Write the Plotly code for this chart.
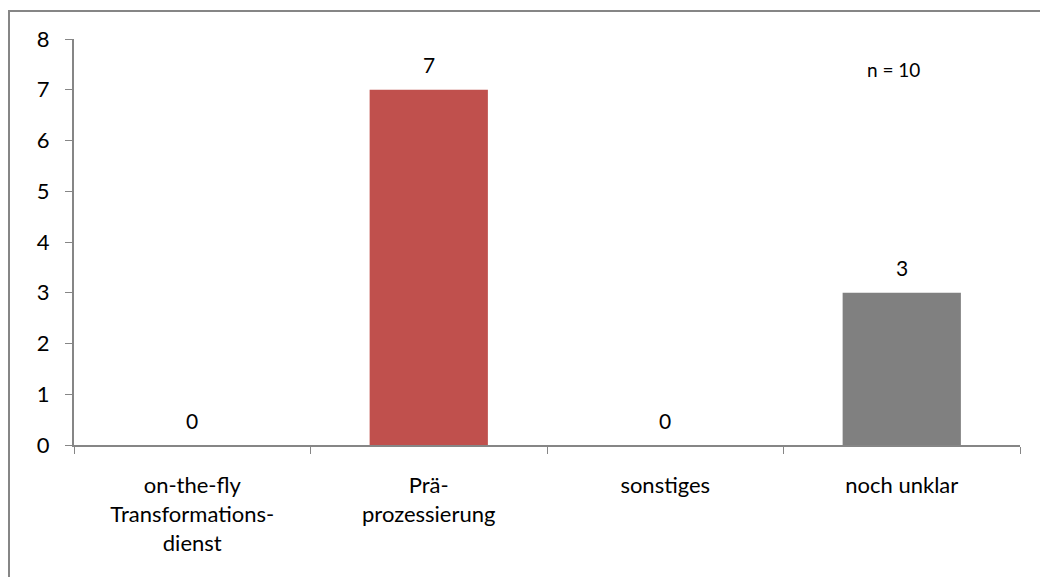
import plotly.graph_objects as go

categories = ["on-the-fly<br>Transformations-<br>dienst", "Prä-<br>prozessierung", "sonstiges", "noch unklar"]
counts = [0, 7, 0, 3]
bar_colors = ["#C0504D", "#C0504D", "#808080", "#808080"]
y_ticks = [0, 1, 2, 3, 4, 5, 6, 7, 8]
note = "n = 10"

W, H = 1040, 577
ml, mr, mt, mb = 74, 20, 39, 132
pw, ph = W - ml - mr, H - mt - mb

FONT = "Lato, Open Sans, sans-serif"
axis_col = "#868686"

fig = go.Figure(go.Bar(
    x=categories,
    y=counts,
    marker=dict(color=bar_colors, line=dict(width=0)),
    width=0.5,
    hoverinfo="x+y",
))

# value labels above each bar
for cat, val in zip(categories, counts):
    fig.add_annotation(
        x=cat, y=val, text=str(val), showarrow=False,
        yshift=25, yanchor="middle", xanchor="center",
        font=dict(family=FONT, size=21, color="#000000"),
    )

fig.update_layout(
    width=W, height=H,
    margin=dict(l=ml, r=mr, t=mt, b=mb),
    paper_bgcolor="white", plot_bgcolor="white",
    showlegend=False,
    font=dict(family=FONT, size=22, color="#000000"),
    xaxis=dict(
        showline=True, linecolor=axis_col, linewidth=2,
        ticks="outside", tickson="boundaries", ticklen=7, tickcolor=axis_col, tickwidth=1,
        showgrid=False, tickfont=dict(size=22), ticklabelstandoff=20,
    ),
    yaxis=dict(
        range=[0, 8], tickvals=y_ticks,
        showline=True, linecolor=axis_col, linewidth=2,
        ticks="outside", ticklen=7, tickcolor=axis_col, tickwidth=1,
        showgrid=False, zeroline=False, tickfont=dict(size=22), ticklabelstandoff=11,
    ),
    bargap=0.5,
)

# outer chart frame
fig.add_shape(
    type="rect", xref="paper", yref="paper",
    x0=(9 - ml) / pw, x1=(W + 10 - ml) / pw,
    y0=-(H + 10 - mt - ph) / ph, y1=1 + (mt - 11) / ph,
    line=dict(color=axis_col, width=2), fillcolor="rgba(0,0,0,0)", layer="below",
)

fig.add_annotation(
    text=note, xref="paper", yref="paper",
    x=(893 - ml) / pw, y=1 - (69 - mt) / ph,
    showarrow=False, font=dict(family=FONT, size=19), xanchor="center", yanchor="middle",
)

fig.write_html("out.html")
